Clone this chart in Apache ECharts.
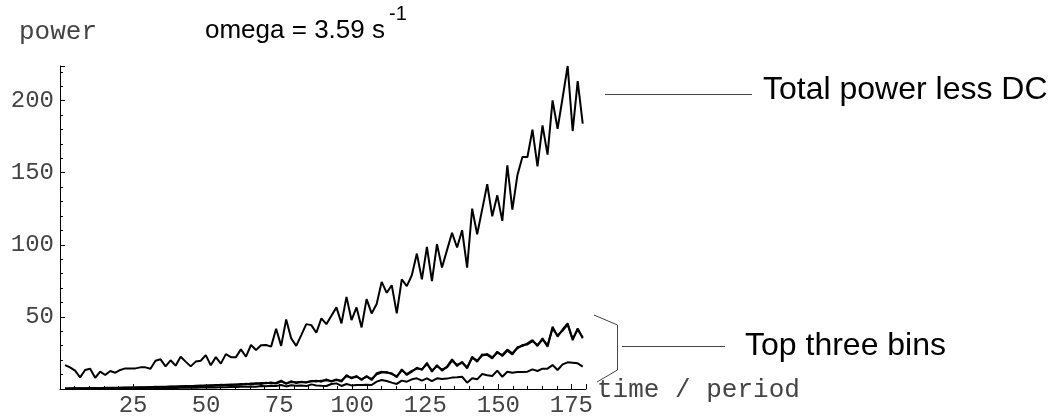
<!DOCTYPE html>
<html>
<head>
<meta charset="utf-8">
<script src="https://cdn.jsdelivr.net/npm/echarts@6/dist/echarts.min.js"></script>
<style>
html,body{margin:0;padding:0;background:#fff;}
#chart{width:1055px;height:420px;}
</style>
</head>
<body>
<div id="chart"></div>
<script>
// time step between samples (time / period units)
const timeStep = 1.72;

// Total power less DC
const totalPower = [
  16.6,15.0,12.7,8.1,13.2,14.1,7.8,12.0,9.7,12.5,
  11.3,13.2,14.3,14.3,14.3,15.0,15.0,14.0,19.6,20.6,
  15.7,19.9,16.2,22.4,19.0,15.7,19.0,19.6,23.5,16.4,
  22.1,17.6,24.2,22.1,22.1,27.5,22.4,30.5,27.0,30.3,
  30.5,29.4,41.8,29.9,48.2,35.1,29.9,37.4,45.0,44.3,
  39.0,49.0,45.0,50.8,56.6,45.5,63.9,47.8,56.6,42.7,
  62.3,52.4,58.9,74.3,66.7,72.0,52.4,76.0,71.3,78.9,
  93.9,76.0,98.5,74.8,100.4,84.2,96.3,108.3,98.1,110.1,
  84.2,125.1,107.3,124.6,142.0,119.8,134.3,116.6,155.1,124.4,
  148.2,160.9,160.9,179.8,154.4,182.8,162.5,200.1,180.5,202.0,
  224.0,178.9,213.5,184.0
];

// Top three bins
const bin1 = [
  0.3,0.4,0.5,0.4,0.6,0.5,0.7,0.6,0.8,0.7,
  0.9,0.8,1.0,0.9,1.1,1.0,1.3,1.2,1.5,1.4,
  1.6,1.5,1.8,1.7,2.0,1.9,2.2,2.0,2.5,2.3,
  2.8,2.6,3.0,2.7,3.2,3.0,3.6,3.3,4.0,3.5,
  4.4,3.9,4.2,5.8,3.6,5.5,4.2,5.0,4.5,5.3,
  5.8,5.1,6.7,5.1,6.7,5.1,9.7,7.4,9.0,6.2,
  9.0,6.2,10.9,12.0,11.3,10.9,8.1,13.6,9.7,12.0,
  14.8,13.2,18.2,12.0,16.6,12.7,15.5,20.6,15.9,18.9,
  14.3,22.4,18.9,24.0,23.6,21.2,25.9,22.9,26.6,24.0,
  28.9,29.8,31.6,33.9,29.8,35.1,29.3,43.2,36.3,41.3,
  45.5,33.9,42.0,35.1
];
const bin2 = [
  0.2,0.3,0.3,0.5,0.4,0.6,0.5,0.6,0.7,0.8,
  0.7,0.9,0.9,1.0,1.0,1.2,1.1,1.4,1.3,1.5,
  1.4,1.7,1.6,1.9,1.8,2.1,2.0,2.4,2.2,2.6,
  2.5,2.9,2.8,3.1,3.0,3.4,3.2,3.8,3.6,4.1,
  4.0,4.5,3.8,5.2,4.0,4.8,4.6,4.9,4.7,5.6,
  5.2,5.8,6.0,5.6,6.2,5.9,8.8,7.9,8.4,6.9,
  8.5,7.0,10.2,11.4,11.8,10.3,8.9,12.8,10.4,12.6,
  14.1,13.8,17.2,12.9,15.8,13.5,15.0,19.6,16.8,18.2,
  15.1,21.5,19.8,23.2,24.3,21.9,25.2,23.6,27.3,24.8,
  28.2,30.5,30.9,33.1,30.6,34.2,30.4,41.8,37.2,40.5,
  44.6,34.8,41.2,35.9
];
const bin3 = [
  0.1,0.2,0.1,0.2,0.2,0.3,0.2,0.3,0.3,0.4,
  0.3,0.4,0.4,0.5,0.5,0.6,0.5,0.6,0.7,0.6,
  0.7,0.8,0.7,0.9,0.8,1.0,0.9,1.1,1.0,1.2,
  1.1,1.3,1.2,1.4,1.4,1.6,1.5,1.8,1.6,2.0,
  1.9,2.2,2.0,2.8,1.8,2.6,2.2,2.4,2.0,3.2,
  2.5,2.2,2.1,3.5,3.9,2.1,3.5,2.5,2.8,2.8,
  3.0,2.8,5.1,6.2,5.5,4.4,3.5,5.8,5.1,6.7,
  7.4,5.8,7.4,5.5,7.4,6.9,7.2,7.9,8.1,8.5,
  4.4,7.4,6.7,10.4,9.5,9.0,12.7,8.5,12.0,11.3,
  11.8,11.8,12.0,13.6,12.5,14.1,14.1,16.6,13.2,17.1,
  18.5,18.2,17.8,15.5
];

const xTicks = [25, 50, 75, 100, 125, 150, 175];
const yTicks = [50, 100, 150, 200];

const pair = arr => arr.map((v, i) => [+(timeStep * (i + 1)).toFixed(2), v]);

const monoFont = 'Liberation Mono';

const chart = echarts.init(document.getElementById('chart'), null, {renderer: 'canvas'});

const lineSeries = (name, arr, w) => ({
  name: name,
  type: 'line',
  data: pair(arr),
  showSymbol: false,
  symbol: 'none',
  animation: false,
  lineStyle: {color: '#000', width: w},
  z: 3
});

chart.setOption({
  animation: false,
  backgroundColor: '#fff',
  grid: {left: 60, right: 469, top: 66, bottom: 31, containLabel: false},
  xAxis: {
    type: 'value',
    min: 0, max: 180, interval: 25,
    axisLine: {show: true, onZero: false, lineStyle: {color: '#000', width: 1}},
    axisTick: {show: true, inside: true, length: 5, lineStyle: {color: '#000'}},
    minorTick: {show: true, splitNumber: 5, length: 3, lineStyle: {color: '#000'}},
    splitLine: {show: false},
    axisLabel: {
      fontFamily: monoFont, fontSize: 24, color: '#444', margin: 5,
      formatter: v => xTicks.includes(v) ? String(v) : ''
    }
  },
  yAxis: {
    type: 'value',
    min: 0, max: 224, interval: 50,
    axisLine: {show: true, onZero: false, lineStyle: {color: '#000', width: 1}},
    axisTick: {show: true, inside: true, length: 5, lineStyle: {color: '#000'}},
    minorTick: {show: true, splitNumber: 5, length: 3, lineStyle: {color: '#000'}},
    splitLine: {show: false},
    axisLabel: {
      fontFamily: monoFont, fontSize: 24, color: '#444', margin: 6,
      formatter: v => yTicks.includes(v) ? String(v) : ''
    }
  },
  series: [
    lineSeries('Total power less DC', totalPower, 2),
    lineSeries('bin 3', bin3, 2),
    lineSeries('bin 2', bin2, 2),
    lineSeries('bin 1', bin1, 2)
  ],
  graphic: [
    {type: 'text', left: 19, top: 19, style: {text: 'power', font: '26px "Liberation Mono"', fill: '#444'}},
    {type: 'text', left: 597, top: 377, style: {text: 'time / period', font: '26px "Liberation Mono"', fill: '#444'}},
    {type: 'text', left: 205, top: 18, style: {text: 'omega = 3.59 s', font: '26px "Liberation Sans"', fill: '#000'}},
    {type: 'text', left: 389, top: 4, style: {text: '-1', font: '20px "Liberation Sans"', fill: '#000'}},
    {type: 'text', left: 763, top: 74, style: {text: 'Total power less DC', font: '32px "Liberation Sans"', fill: '#000'}},
    {type: 'text', left: 745, top: 330, style: {text: 'Top three bins', font: '32px "Liberation Sans"', fill: '#000'}},
    {type: 'line', shape: {x1: 605, y1: 94.5, x2: 752, y2: 94.5}, style: {stroke: '#444', lineWidth: 1}},
    {type: 'line', shape: {x1: 622, y1: 346.5, x2: 725, y2: 346.5}, style: {stroke: '#444', lineWidth: 1}},
    {type: 'polyline', shape: {points: [[594, 315], [617.5, 325], [617.5, 370], [597, 382]]}, style: {stroke: '#444', lineWidth: 1, fill: null}}
  ]
});
</script>
</body>
</html>
